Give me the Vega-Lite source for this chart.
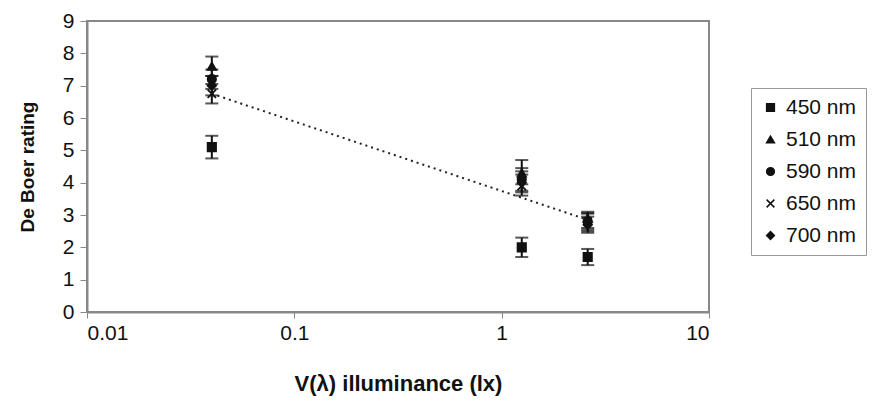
{
  "$schema": "https://vega.github.io/schema/vega-lite/v6.json",
  "width": 622,
  "height": 291,
  "autosize": "none",
  "padding": {"left": 87, "top": 21, "right": 165, "bottom": 102},
  "background": "white",
  "config": {
    "view": {"stroke": "#888888", "strokeWidth": 2},
    "font": "Liberation Sans",
    "axis": {"grid": false, "domainColor": "#888888", "tickColor": "#888888", "labelColor": "#111111", "titleColor": "#111111", "labelFontSize": 21, "titleFontWeight": "bold", "domainWidth": 2, "labelOverlap": false}
  },
  "datasets": {
    "pts": [
      {"series": "450 nm", "x": 0.04, "y": 5.1, "lo": 4.75, "hi": 5.45},
      {"series": "510 nm", "x": 0.04, "y": 7.6, "lo": 7.3, "hi": 7.9},
      {"series": "590 nm", "x": 0.04, "y": 7.2, "lo": 6.9, "hi": 7.5},
      {"series": "650 nm", "x": 0.04, "y": 6.75, "lo": 6.45, "hi": 7.05},
      {"series": "700 nm", "x": 0.04, "y": 7.0, "lo": 6.7, "hi": 7.3},
      {"series": "450 nm", "x": 1.25, "y": 2.0, "lo": 1.7, "hi": 2.3},
      {"series": "510 nm", "x": 1.25, "y": 4.3, "lo": 3.95, "hi": 4.7},
      {"series": "590 nm", "x": 1.25, "y": 4.1, "lo": 3.75, "hi": 4.45},
      {"series": "650 nm", "x": 1.25, "y": 3.9, "lo": 3.6, "hi": 4.25},
      {"series": "700 nm", "x": 1.25, "y": 4.0, "lo": 3.7, "hi": 4.35},
      {"series": "450 nm", "x": 2.6, "y": 1.7, "lo": 1.45, "hi": 1.95},
      {"series": "510 nm", "x": 2.6, "y": 2.9, "lo": 2.6, "hi": 3.1},
      {"series": "590 nm", "x": 2.6, "y": 2.8, "lo": 2.55, "hi": 3.05},
      {"series": "650 nm", "x": 2.6, "y": 2.8, "lo": 2.5, "hi": 3.05},
      {"series": "700 nm", "x": 2.6, "y": 2.7, "lo": 2.45, "hi": 2.95}
    ],
    "trend": [
      {"x": 0.04, "y": 6.75},
      {"x": 2.6, "y": 2.85}
    ]
  },
  "encoding": {
    "x": {"field": "x", "type": "quantitative", "scale": {"type": "log", "domain": [0.01, 10]},
      "axis": {"values": [0.01, 0.1, 1, 10], "format": "~g", "title": "V(λ) illuminance (lx)", "titleFontSize": 22, "tickSize": 6, "labelPadding": 4, "titlePadding": 30}},
    "y": {"field": "y", "type": "quantitative", "scale": {"domain": [0, 9], "nice": false},
      "axis": {"values": [0,1,2,3,4,5,6,7,8,9], "labelOverlap": false, "title": "De Boer rating", "titleFontSize": 19, "tickSize": 7, "labelPadding": 6, "titlePadding": 25}}
  },
  "layer": [
    {
      "data": {"name": "trend"},
      "mark": {"type": "line", "color": "#222222", "strokeDash": [2, 4], "strokeWidth": 2}
    },
    {
      "data": {"name": "pts"},
      "mark": {"type": "rule", "color": "#111111", "strokeWidth": 2},
      "encoding": {
        "y": {"field": "lo", "type": "quantitative"},
        "y2": {"field": "hi"}
      }
    },
    {
      "data": {"name": "pts"},
      "mark": {"type": "tick", "color": "#111111", "orient": "horizontal", "size": 13, "thickness": 2},
      "encoding": {
        "y": {"field": "lo", "type": "quantitative"}
      }
    },
    {
      "data": {"name": "pts"},
      "mark": {"type": "tick", "color": "#111111", "orient": "horizontal", "size": 13, "thickness": 2},
      "encoding": {
        "y": {"field": "hi", "type": "quantitative"}
      }
    },
    {
      "data": {"name": "pts"},
      "mark": {"type": "point", "filled": true, "color": "#111111", "stroke": "#111111", "strokeWidth": 1.8, "size": 70, "opacity": 1},
      "encoding": {
        "shape": {"field": "series", "type": "nominal",
          "scale": {"domain": ["450 nm", "510 nm", "590 nm", "650 nm", "700 nm"], "range": ["square", "triangle-up", "circle", "M-1,-1L1,1M-1,1L1,-1", "diamond"]},
          "legend": {"title": null, "orient": "none", "legendX": 664, "legendY": 67, "labelFontSize": 21, "labelColor": "#111111", "symbolSize": 60, "rowPadding": 10, "padding": 9, "strokeColor": "#999999", "fillColor": "white", "labelOffset": 5,
            "encode": {"symbols": {"update": {"fill": {"value": "#111111"}, "stroke": {"value": "#111111"}, "strokeWidth": {"value": 1.5}, "opacity": {"value": 1}}}}}
        }
      }
    }
  ]
}
